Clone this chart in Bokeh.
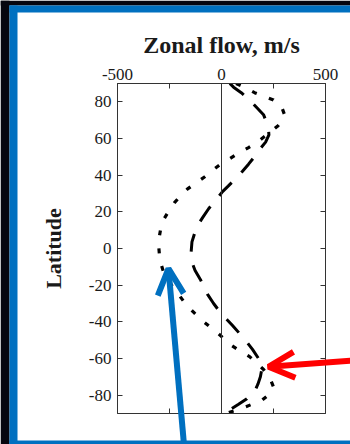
from bokeh.plotting import figure
from bokeh.models import (Range1d, LinearAxis, FixedTicker, BoxAnnotation,
                          Arrow, OpenHead, Span)
from bokeh.embed import file_html
from bokeh.resources import INLINE

# Zonal wind profiles (m/s) against latitude (deg)
lat_a = [90, 88, 85, 81.5, 77, 73, 69, 65, 62, 58, 54, 50, 46, 42, 38, 34, 31,
         26, 21.7, 17, 13.5, 8, 3.6, -2, -7, -12, -17, -21, -25, -30, -35, -39,
         -42, -46, -50, -55, -60, -65, -70, -74, -78, -82, -85, -88, -90]
zonal_a = [40, 58, 95, 130, 168, 202, 216, 226, 228, 212, 183, 158, 130, 100,
           67, 32, 5, -30, -62, -90, -110, -130, -142, -146, -144, -127, -101,
           -84, -67, -38, -5, 28, 53, 84, 115, 149, 178, 195, 187, 175, 159,
           122, 82, 40, 5]

lat_b = [90, 88, 85, 81, 77, 73, 70, 67, 64, 61, 57.6, 55, 52, 49, 46, 42.5,
         39, 36, 32.5, 29, 25, 20, 15.6, 11, 7, 1.5, -4, -8, -12.7, -17, -22,
         -26, -31, -35, -39, -42.5, -46, -49, -52.5, -56, -59, -62, -66, -70,
         -75.5, -79, -83, -87, -90]
zonal_b = [70, 110, 159, 250, 290, 303, 295, 272, 240, 205, 168, 130, 82, 40,
           -5, -45, -82, -120, -163, -195, -226, -256, -279, -292, -298, -302,
           -298, -292, -279, -258, -228, -200, -168, -132, -96, -58, -19, 10,
           43, 90, 135, 165, 202, 230, 250, 235, 192, 101, 20]

x_labelled = [-500, 0, 500]
x_unlabelled = [-250, 250]
y_ticks = [-80, -60, -40, -20, 0, 20, 40, 60, 80]

SERIF = "Liberation Serif"
INK = "#1a1a1a"
FRAME = "#333333"
BLUE = "#0070C0"
RED = "#FF0000"
DARK = "#06060f"

W, H = 350, 444
B_LEFT, B_RIGHT, B_TOP, B_BOTTOM = 117, 25, 83, 31
X0, X1, Y0, Y1 = -500, 500, -90, 90

p = figure(width=W, height=H, output_backend="svg", toolbar_location=None,
           x_range=Range1d(X0, X1), y_range=Range1d(Y0, Y1),
           x_axis_location="above",
           min_border_left=B_LEFT, min_border_right=B_RIGHT,
           min_border_top=B_TOP, min_border_bottom=B_BOTTOM)

p.border_fill_color = "white"
p.background_fill_color = "white"
p.outline_line_color = FRAME
p.xgrid.visible = False
p.ygrid.visible = False


def style_axis(ax, major, minor):
    ax.ticker = FixedTicker(ticks=major, minor_ticks=minor)
    ax.major_label_overrides = {t: str(t) for t in major}
    ax.major_tick_in = 5
    ax.major_tick_out = 0
    ax.minor_tick_in = 5
    ax.minor_tick_out = 0
    ax.axis_line_color = FRAME
    ax.major_tick_line_color = FRAME
    ax.minor_tick_line_color = FRAME
    ax.major_label_text_font = SERIF
    ax.major_label_text_font_size = "17px"
    ax.major_label_text_color = INK


xtop = p.xaxis[0]
style_axis(xtop, x_labelled, x_unlabelled)
xtop.major_label_standoff = 4
xtop.axis_label = "Zonal flow, m/s"
xtop.axis_label_text_font = SERIF
xtop.axis_label_text_font_style = "bold"
xtop.axis_label_text_font_size = "24px"
xtop.axis_label_text_color = INK
xtop.axis_label_standoff = 8

yleft = p.yaxis[0]
style_axis(yleft, y_ticks, [])
yleft.major_label_standoff = 6
yleft.axis_label = "Latitude"
yleft.axis_label_text_font = SERIF
yleft.axis_label_text_font_style = "bold"
yleft.axis_label_text_font_size = "22px"
yleft.axis_label_text_color = INK
yleft.axis_label_standoff = 20

xbottom = LinearAxis()
style_axis(xbottom, [], x_unlabelled)
p.add_layout(xbottom, "below")

yright = LinearAxis()
style_axis(yright, [], y_ticks)
p.add_layout(yright, "right")

# zero-wind reference line
p.add_layout(Span(location=0, dimension="height", line_color=FRAME,
                  line_width=1))

p.line(zonal_a, lat_a, line_color="black", line_width=3, line_dash="18 14")
p.line(zonal_b, lat_b, line_color="black", line_width=3.2, line_dash="5 13")

# Transparent layer over the whole canvas, sharing the chart's data scale,
# so the slide border and the pointers can run past the plot frame.
ux = (X1 - X0) / (W - B_LEFT - B_RIGHT)
uy = (Y1 - Y0) / (H - B_TOP - B_BOTTOM)
ov = figure(width=W, height=H, output_backend="svg", toolbar_location=None,
            x_range=Range1d(X0 - B_LEFT * ux, X1 + B_RIGHT * ux),
            y_range=Range1d(Y0 - B_BOTTOM * uy, Y1 + B_TOP * uy),
            x_axis_type=None, y_axis_type=None, min_border=0)
ov.outline_line_color = None
ov.background_fill_alpha = 0
ov.border_fill_alpha = 0
ov.xgrid.visible = False
ov.ygrid.visible = False
ov.styles = {"position": "absolute", "top": "0px", "left": "0px"}


def edge_strip(left, right, top, bottom, color):
    ov.add_layout(BoxAnnotation(left=left, right=right, top=top, bottom=bottom,
                                left_units="canvas", right_units="canvas",
                                top_units="canvas", bottom_units="canvas",
                                fill_color=color, fill_alpha=1, line_alpha=0))


edge_strip(0, W, 0, 5, DARK)
edge_strip(0, 9, 0, H, DARK)
edge_strip(9, W, 5, 12, BLUE)
edge_strip(9, 17, 5, H, BLUE)
edge_strip(9, W, 440, H, BLUE)

ov.add_layout(Arrow(end=OpenHead(line_color=BLUE, line_width=6, size=26),
                    x_start=-178, y_start=-110, x_end=-255, y_end=-11,
                    line_color=BLUE, line_width=6))
ov.add_layout(Arrow(end=OpenHead(line_color=RED, line_width=6, size=26),
                    x_start=640, y_start=-61, x_end=226, y_end=-64.5,
                    line_color=RED, line_width=6))

open("out.html", "w").write(file_html([p, ov], INLINE))
